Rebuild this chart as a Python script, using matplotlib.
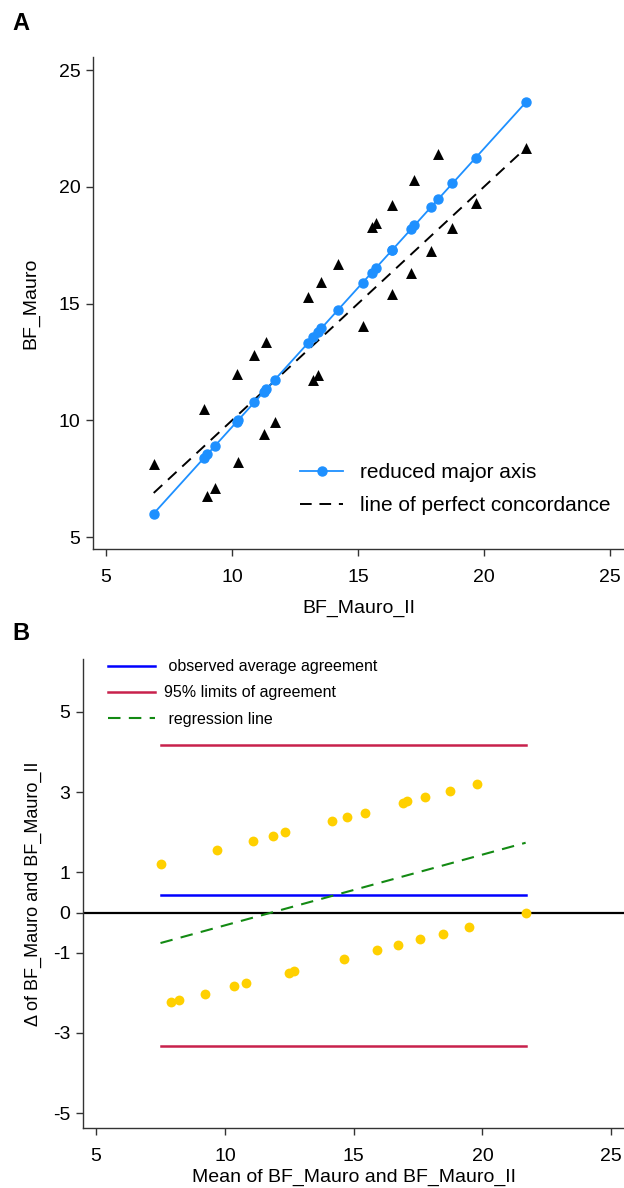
import numpy as np
import matplotlib
matplotlib.use("Agg")
import matplotlib.pyplot as plt

plt.rcParams['font.family'] = ['Liberation Sans', 'DejaVu Sans']
plt.rcParams['axes.unicode_minus'] = False

# Paired measurements
bf_mauro = [8.11, 10.47, 11.98, 12.81, 13.35, 15.30, 15.94, 16.68, 18.28, 18.47,
            19.22, 20.28, 21.40,
            6.78, 7.12, 8.21, 9.42, 9.94, 11.73, 11.96, 14.04, 15.42, 16.30,
            17.25, 18.22, 19.31, 21.68]
bf_mauro_ii = [6.89, 8.90, 10.19, 10.89, 11.35, 13.01, 13.55, 14.19, 15.54, 15.70,
               16.34, 17.24, 18.19,
               9.02, 9.31, 10.24, 11.26, 11.70, 13.23, 13.42, 15.19, 16.36, 17.11,
               17.91, 18.75, 19.67, 21.68]

# Bland-Altman statistics
mean_diff = 0.44
loa_lower = -3.32
loa_upper = 4.17
reg_at_min = -0.76
reg_at_max = 1.74

ticks_a = [5, 10, 15, 20, 25]
yticks_b = [5, 3, 1, 0, -1, -3, -5]

x = np.array(bf_mauro_ii)
y = np.array(bf_mauro)

# reduced major axis
r = np.corrcoef(x, y)[0, 1]
slope = np.sign(r) * y.std(ddof=1) / x.std(ddof=1)
icpt = y.mean() - slope * x.mean()
xs = np.sort(x)
ys = icpt + slope * xs

fig = plt.figure(figsize=(6.24, 11.88), dpi=100)

spine_col = '#333333'

def style(ax):
    for s in ['top', 'right']:
        ax.spines[s].set_visible(False)
    for s in ['left', 'bottom']:
        ax.spines[s].set_color(spine_col)
        ax.spines[s].set_linewidth(1.0)
    ax.tick_params(direction='out', length=5, width=1.0, color=spine_col,
                   labelsize=14)
    ax.tick_params(axis='x', pad=9.5)
    ax.tick_params(axis='y', pad=4)

# Panel A
axA = fig.add_axes([93/624, 1-549/1188, 531/624, 492/1188])
axA.scatter(x, y, marker='^', s=62, color='black', zorder=3, linewidths=0)
axA.plot(xs, ys, '-o', color='#1E90FF', lw=1.3, ms=6.5, zorder=4,
         label='reduced major axis')
lo, hi = x.min(), x.max()
axA.plot([lo, hi], [lo, hi], '--', color='black', lw=1.4, dashes=(6, 4),
         label='line of perfect concordance', zorder=2)
axA.set_xlim(4.48, 25.56)
axA.set_ylim(4.49, 25.56)
axA.set_xticks(ticks_a)
axA.set_yticks(ticks_a)
style(axA)
axA.set_xlabel('BF_Mauro_II', fontsize=14, labelpad=10)
axA.set_ylabel('BF_Mauro', fontsize=14, labelpad=14)
leg = axA.legend(loc='lower right', bbox_to_anchor=(1.01, 0.03), frameon=False,
                 fontsize=15, handlelength=2.1, handletextpad=0.8, labelspacing=0.7)
fig.text(12/624, 1-30/1188, 'A', fontsize=17, fontweight='bold')

# Panel B
m = (x + y) / 2
d = y - x
axB = fig.add_axes([83/624, 1-1128/1188, 541/624, 469/1188])
mmin, mmax = m.min(), m.max()
axB.axhline(0, color='black', lw=1.6, zorder=1)
axB.plot([mmin, mmax], [mean_diff, mean_diff], color='#0000FF', lw=1.8,
         label=' observed average agreement', zorder=2)
axB.plot([mmin, mmax], [loa_upper, loa_upper], color='#C8214C', lw=1.8,
         label='95% limits of agreement', zorder=2)
axB.plot([mmin, mmax], [loa_lower, loa_lower], color='#C8214C', lw=1.8, zorder=2)
axB.plot([mmin, mmax], [reg_at_min, reg_at_max], '--', color='#138A13', lw=1.5,
         dashes=(6, 4), label=' regression line', zorder=2)
axB.scatter(m, d, s=50, color='#FFD000', zorder=3, linewidths=0)
axB.set_xlim(4.49, 25.5)
axB.set_ylim(-5.37, 6.32)
axB.set_xticks(ticks_a)
axB.set_yticks(yticks_b)
style(axB)
axB.set_xlabel('Mean of BF_Mauro and BF_Mauro_II', fontsize=14, labelpad=3)
axB.set_ylabel('\u0394 of BF_Mauro and BF_Mauro_II', fontsize=13, labelpad=8)
axB.legend(loc='upper left', bbox_to_anchor=(0.02, 1.03), frameon=False,
           fontsize=11.5, handlelength=2.9, handletextpad=0.6, labelspacing=0.7)
fig.text(12/624, 1-640/1188, 'B', fontsize=17, fontweight='bold')

fig.savefig('out.png', dpi=100)
